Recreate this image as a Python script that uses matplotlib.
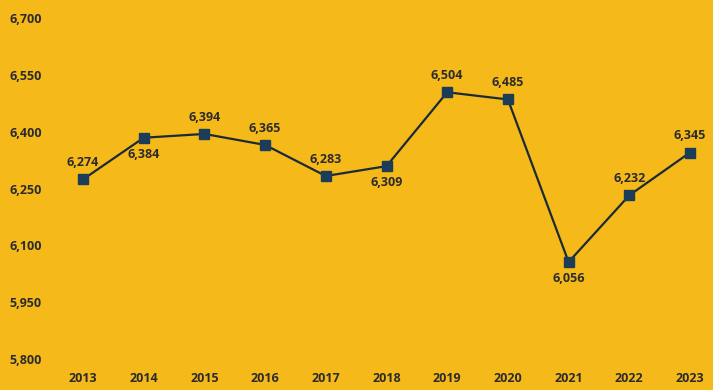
import matplotlib
matplotlib.use("Agg")
import matplotlib.pyplot as plt

years = ["2013", "2014", "2015", "2016", "2017", "2018", "2019", "2020", "2021", "2022", "2023"]
values = [6274, 6384, 6394, 6365, 6283, 6309, 6504, 6485, 6056, 6232, 6345]
label_above = [True, False, True, True, True, False, True, True, False, True, True]
yticks = [5800, 5950, 6100, 6250, 6400, 6550, 6700]

bg = "#F5BA1A"
txt = "#2b2b2b"

plt.rcParams['font.family'] = ['Open Sans', 'DejaVu Sans']

fig = plt.figure(figsize=(7.13, 3.90), dpi=100, facecolor=bg)
ax = fig.add_axes([53/713, 31/390, 660/713, 341/390], facecolor=bg)

x = list(range(len(years)))
ax.plot(x, values, color="#1c2a35", lw=1.6, zorder=2)
ax.plot(x, values, ls="none", marker="s", ms=6.5, color="#1b3d58", zorder=3)

for i, v in enumerate(values):
    off = 12 if label_above[i] else -12
    ax.annotate(f"{v:,}", (i, v), xytext=(0, off), textcoords="offset points",
                ha="center", va="center", fontsize=9, fontweight="bold", color=txt)

ax.set_xlim((53 - 83) / 60.7, (713 - 83) / 60.7)
ax.set_ylim(5800, 6700)
ax.set_xticks(x)
ax.set_xticklabels(years)
ax.set_yticks(yticks)
ax.set_yticklabels([f"{t:,}" for t in yticks])
ax.tick_params(axis="both", length=0, labelsize=9, colors=txt)
ax.tick_params(axis="x", pad=9)
ax.tick_params(axis="y", pad=8)
for lab in ax.get_xticklabels() + ax.get_yticklabels():
    lab.set_fontweight("bold")
for s in ax.spines.values():
    s.set_visible(False)

fig.savefig("out.png", dpi=100, facecolor=bg)
